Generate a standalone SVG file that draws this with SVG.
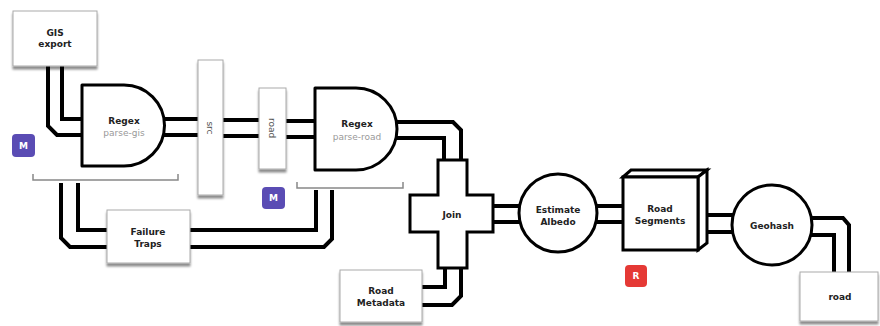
<svg xmlns="http://www.w3.org/2000/svg" width="880" height="326" viewBox="0 0 880 326">
<defs>
<filter id="sh" x="-20%" y="-20%" width="140%" height="150%">
<feDropShadow dx="0" dy="3" stdDeviation="1.2" flood-color="#000" flood-opacity="0.45"/>
</filter>
<style>
.pipe{fill:none;stroke:#000;stroke-width:4;stroke-linejoin:miter}
.box{fill:#fff;stroke:#aaa;stroke-width:1;filter:url(#sh)}
.shape{fill:#fff;stroke:#000;stroke-width:3;stroke-linejoin:round}
.br{fill:none;stroke:#888;stroke-width:1.5}
.t{font-family:"DejaVu Sans",Verdana,sans-serif;font-size:9px;font-weight:bold;fill:#222;text-anchor:middle}
.s{font-family:"DejaVu Sans",Verdana,sans-serif;font-size:9px;fill:#999;text-anchor:middle}
.bt{font-family:"DejaVu Sans",Verdana,sans-serif;font-size:9px;font-weight:bold;fill:#fff;text-anchor:middle}
</style>
</defs>
<rect width="880" height="326" fill="#fff"/>
<g id="connectors">
<path class="pipe" d="M62 66 V119 H86"/>
<path class="pipe" d="M48 66 V126 L57 135 H86"/>
<path class="pipe" d="M150 119 H200"/>
<path class="pipe" d="M150 135 H200"/>
<path class="pipe" d="M222 120 H261"/>
<path class="pipe" d="M222 136 H261"/>
<path class="pipe" d="M285 121 H318"/>
<path class="pipe" d="M285 137 H318"/>
<path class="pipe" d="M385 122 H453 L461 130 V162"/>
<path class="pipe" d="M385 138 H444 V162"/>
<path class="pipe" d="M490 206 H522"/>
<path class="pipe" d="M490 222 H522"/>
<path class="pipe" d="M594 206 H625"/>
<path class="pipe" d="M594 222 H625"/>
<path class="pipe" d="M705 215 H736"/>
<path class="pipe" d="M705 232 H736"/>
<path class="pipe" d="M805 218 H843 L849 225 V274"/>
<path class="pipe" d="M805 235 H834 V274"/>
<path class="pipe" d="M78 183 V230 H110"/>
<path class="pipe" d="M61 183 V238 L70 247 H110"/>
<path class="pipe" d="M188 230 H316 V190"/>
<path class="pipe" d="M188 247 H324 L332 239 V190"/>
<path class="pipe" d="M418 287 H445 V265"/>
<path class="pipe" d="M418 305 H452 L461 296 V265"/>
<path class="br" d="M33 174 V180 H178 V174"/>
<path class="br" d="M297 182 V188 H403 V182"/>
</g>
<g id="gis-export">
<rect class="box" x="13" y="11" width="84" height="55"/>
<text class="t" x="55" y="36">GIS</text>
<text class="t" x="55" y="47">export</text>
</g>
<g id="regex-parse-gis">
<path class="shape" d="M82 85 H124 A40.5 40.5 0 0 1 124 166 H82 Z"/>
<text class="t" x="124" y="124">Regex</text>
<text class="s" x="124" y="136">parse-gis</text>
</g>
<g id="src">
<rect class="box" x="198" y="60" width="25" height="135"/>
<text class="s" x="210" y="128" transform="rotate(90 210 128)" dy="3" style="fill:#555">src</text>
</g>
<g id="road-bar">
<rect class="box" x="259" y="88" width="27" height="81"/>
<text class="s" x="272" y="128" transform="rotate(90 272 128)" dy="3" style="fill:#555">road</text>
</g>
<g id="regex-parse-road">
<path class="shape" d="M315 88 H356 A41 41 0 0 1 356 170 H315 Z"/>
<text class="t" x="357" y="127">Regex</text>
<text class="s" x="357" y="140">parse-road</text>
</g>
<g id="failure-traps">
<rect class="box" x="107" y="210" width="83" height="53"/>
<text class="t" x="148" y="235">Failure</text>
<text class="t" x="148" y="247">Traps</text>
</g>
<g id="road-metadata">
<rect class="box" x="340" y="270" width="82" height="52"/>
<text class="t" x="381" y="294">Road</text>
<text class="t" x="381" y="306">Metadata</text>
</g>
<g id="join">
<path class="shape" d="M438 160 H467 V195 H493 V232 H467 V268 H438 V232 H410 V195 H438 Z" style="stroke-linejoin:miter"/>
<text class="t" x="452" y="218">Join</text>
</g>
<g id="estimate-albedo">
<circle class="shape" cx="558" cy="213" r="39"/>
<text class="t" x="558" y="213">Estimate</text>
<text class="t" x="558" y="225">Albedo</text>
</g>
<g id="road-segments">
<path class="shape" d="M623 177 L631 170 H707 L698 177 Z" style="stroke-linejoin:miter"/>
<path class="shape" d="M698 177 L707 170 V243 L698 250 Z" style="stroke-linejoin:miter"/>
<rect class="shape" x="623" y="177" width="75" height="73" style="stroke-linejoin:miter"/>
<text class="t" x="660" y="212">Road</text>
<text class="t" x="660" y="224">Segments</text>
</g>
<g id="geohash">
<circle class="shape" cx="772" cy="225" r="40"/>
<text class="t" x="772" y="229">Geohash</text>
</g>
<g id="road-out">
<rect class="box" x="800" y="272" width="78" height="49"/>
<text class="t" x="840" y="300">road</text>
</g>
<g id="badge-m1">
<rect x="12" y="134" width="23" height="23" rx="4" fill="#5a4cb4"/>
<text class="bt" x="23.5" y="149">M</text>
</g>
<g id="badge-m2">
<rect x="262" y="187" width="23" height="22" rx="4" fill="#5a4cb4"/>
<text class="bt" x="273.5" y="201">M</text>
</g>
<g id="badge-r">
<rect x="625" y="265" width="22" height="22" rx="4" fill="#e53935"/>
<text class="bt" x="636" y="279">R</text>
</g>
</svg>
